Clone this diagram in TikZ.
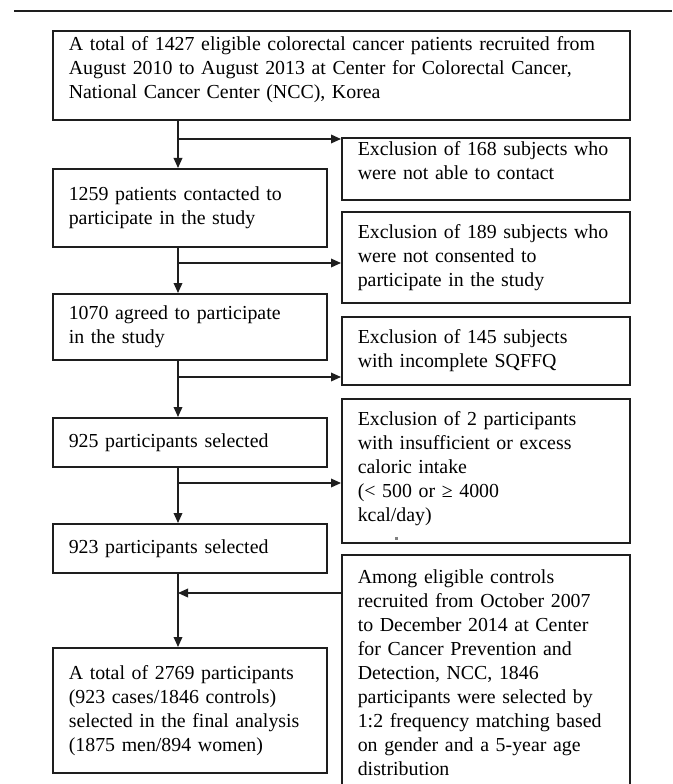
\documentclass[tikz,border=0pt]{standalone}
\usepackage{fontspec}
\setmainfont{Liberation Serif}
\usepackage{tikz}
\usetikzlibrary{arrows.meta}
\definecolor{chartink}{RGB}{30,30,30}
% empty room under the last line of a box
\newcommand{\padbelow}[1]{\par\nointerlineskip\vspace{#1}\null}

\tikzset{
  box/.style={draw=chartink, line width=1.2pt, anchor=north west, align=left,
    inner xsep=12pt, inner ysep=0pt, font=\fontsize{14.9}{18}\selectfont},
  leftbox/.style={box, text width=181.5pt},
  sidebox/.style={box, text width=192pt},
  arr/.style={draw=chartink, line width=1pt, -{Triangle[length=7.5pt,width=6.5pt]}},
}

\begin{document}
\begin{tikzpicture}[x=0.75pt, y=-0.75pt]
  \useasboundingbox (0,0) rectangle (672,784);
  \draw[chartink, line width=1.6pt] (14,11) -- (672,11);

  % main column
  \node[box, text width=408.75pt, minimum height=66.75pt] (top) at (52,30)
    {A total of 1427 eligible colorectal cancer patients recruited from\\
     August 2010 to August 2013 at Center for Colorectal Cancer,\\
     National Cancer Center (NCC), Korea\padbelow{9pt}};
  \node[leftbox, minimum height=58.5pt] (b2) at (52,168)
    {1259 patients contacted to\\ participate in the study};
  \node[leftbox, minimum height=49.5pt] (b3) at (52,293)
    {1070 agreed to participate\\ in the study};
  \node[leftbox, minimum height=36.75pt] (b4) at (52,417)
    {925 participants selected};
  \node[leftbox, minimum height=36.75pt] (b5) at (52,523)
    {923 participants selected};
  \node[leftbox, minimum height=93.75pt] (b6) at (52,647)
    {A total of 2769 participants\\ (923 cases/1846 controls)\\
     selected in the final analysis\\ (1875 men/894 women)};

  % exclusions
  \node[sidebox, minimum height=46.5pt] (ex1) at (341,137)
    {Exclusion of 168 subjects who\\ were not able to contact\padbelow{12.5pt}};
  \node[sidebox, minimum height=68.25pt] (ex2) at (341,211)
    {Exclusion of 189 subjects who\\ were not consented to\\ participate in the study};
  \node[sidebox, minimum height=51pt] (ex3) at (341,316)
    {Exclusion of 145 subjects\\ with incomplete SQFFQ};
  \node[sidebox, minimum height=108pt] (ex4) at (341,398)
    {Exclusion of 2 participants\\ with insufficient or excess\\ caloric intake\\
     (< 500 or ≥ 4000\\ kcal/day)\padbelow{3pt}};
  \node[sidebox, minimum height=177pt] (ex5) at (341,554)
    {Among eligible controls\\ recruited from October 2007\\ to December 2014 at Center\\
     for Cancer Prevention and\\ Detection, NCC, 1846\\ participants were selected by\\
     1:2 frequency matching based\\ on gender and a 5-year age\\ distribution};
  \fill[gray] (395,537) rectangle (398,540);

  \coordinate (spine) at (178,0);
  \coordinate (j1) at (178,139);
  \coordinate (j2) at (178,263);
  \coordinate (j3) at (178,377);
  \coordinate (j4) at (178,483);
  \coordinate (j5) at (178,593);

  \foreach \a/\b in {top/b2, b2/b3, b3/b4, b4/b5, b5/b6}
    \draw[arr] (\a.south -| spine) -- (\b.north -| spine);
  \foreach \j/\e in {j1/ex1, j2/ex2, j3/ex3, j4/ex4}
    \draw[arr] (\j) -- (\j -| \e.west);
  % controls join the cases
  \draw[arr] (j5 -| ex5.west) -- (j5);
\end{tikzpicture}
\end{document}
